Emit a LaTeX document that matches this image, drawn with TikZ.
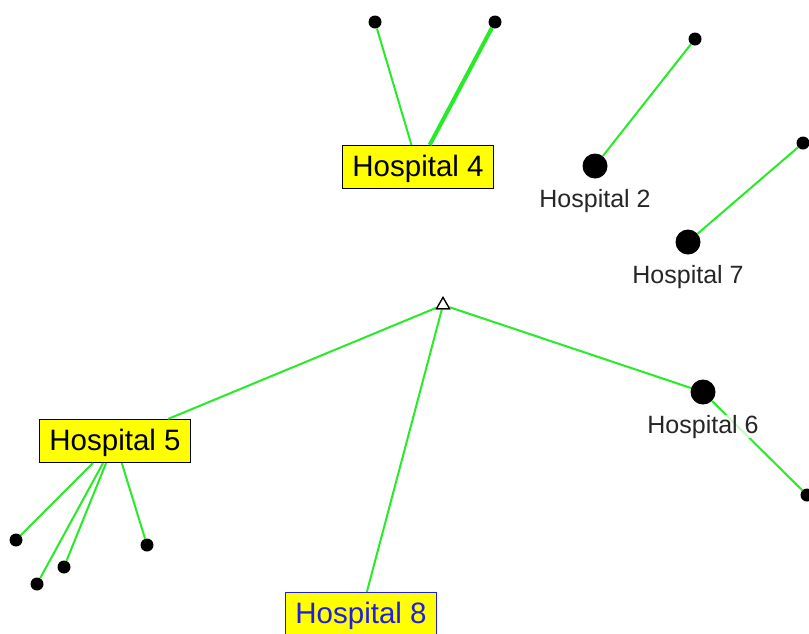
\documentclass[tikz,border=0pt]{standalone}
\usepackage{fontspec}
\setmainfont{Liberation Sans}
\usetikzlibrary{positioning,shapes.geometric}

\definecolor{edgegreen}{RGB}{40,235,40}
\definecolor{hbox}{RGB}{255,255,0}
\definecolor{hblue}{RGB}{30,30,230}

\tikzset{
  edge/.style={draw=edgegreen, line width=2pt},
  hospbox/.style={draw=black, fill=hbox, line width=1.2pt, minimum width=151pt, minimum height=43pt, inner sep=0pt, text depth=2.5pt, font=\fontsize{29.5}{34}\selectfont},
  leaf/.style={circle, fill=black, minimum size=13pt, inner sep=0pt},
  bigdot/.style={circle, fill=black, minimum size=25pt, inner sep=0pt},
  hosplabel/.style={inner sep=0pt, text=black!85, fill=white, fill opacity=0.75, text opacity=1, font=\fontsize{25}{29}\selectfont},
  rootmark/.style={regular polygon, regular polygon sides=3, draw=black, fill=white, line width=1.2pt, minimum size=15pt, inner sep=0pt}
}

\begin{document}
\begin{tikzpicture}[x=1pt, y=-1pt]
	\useasboundingbox (0,0) rectangle (809,633);

	% nodes
	\node[rootmark] (root) at (443,305) {};

	\node[hospbox] (h4) at (418,167) {Hospital 4};
	\node[leaf] (l4a) at (375,22) {};
	\node[leaf] (l4b) at (495,22) {};

	\node[bigdot] (h2) at (595,166) {};
	\node[leaf] (l2) at (695,39) {};

	\node[bigdot] (h7) at (688,242) {};
	\node[leaf] (l7) at (803,143) {};

	\node[bigdot] (h6) at (703,392) {};
	\node[leaf] (l6) at (807,495) {};

	\node[hospbox] (h5) at (115,441) {Hospital 5};
	\node[leaf] (l5a) at (16,540) {};
	\node[leaf] (l5b) at (37,584) {};
	\node[leaf] (l5c) at (64,567) {};
	\node[leaf] (l5d) at (147,545) {};

	\node[hospbox, draw=hblue, text=hblue] (h8) at (361,614) {Hospital 8};

	% connectors
	\draw[edge] (root) -- (h5);
	\draw[edge] (root) -- (h8);
	\draw[edge] (root) -- (h6);
	\draw[edge] (h4) -- (l4a);
	\draw[edge, line width=4pt] (h4) -- (l4b);
	\draw[edge] (h2) -- (l2);
	\draw[edge] (h7) -- (l7);
	\draw[edge] (h6) -- (l6);
	\foreach \l in {l5a,l5b,l5c,l5d}
		\draw[edge] (h5) -- (\l);

	% labels under the dots
	\node[hosplabel, below=10pt of h2] (t2) {Hospital 2};
	\node[hosplabel, below=10pt of h7] (t7) {Hospital 7};
	\node[hosplabel, below=10pt of h6] (t6) {Hospital 6};

	\node[rootmark] at (root) {};
\end{tikzpicture}
\end{document}
